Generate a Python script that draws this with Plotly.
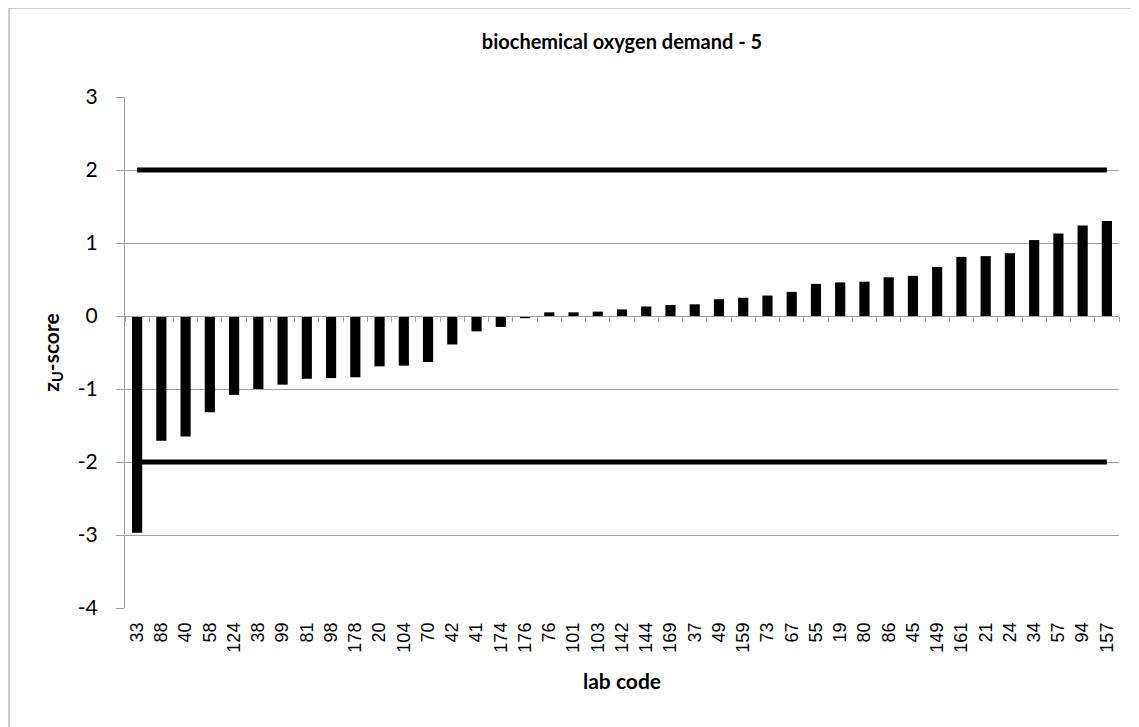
import plotly.graph_objects as go

# lab codes, sorted by z-score
lab_codes = ["33", "88", "40", "58", "124", "38", "99", "81", "98", "178",
             "20", "104", "70", "42", "41", "174", "176", "76", "101", "103",
             "142", "144", "169", "37", "49", "159", "73", "67", "55", "19",
             "80", "86", "45", "149", "161", "21", "24", "34", "57", "94", "157"]
z_scores = [-2.97, -1.71, -1.65, -1.32, -1.08, -1.00, -0.94, -0.86, -0.85, -0.84,
            -0.69, -0.68, -0.63, -0.39, -0.21, -0.15, -0.03, 0.05, 0.05, 0.06,
            0.09, 0.13, 0.15, 0.16, 0.23, 0.25, 0.28, 0.33, 0.44, 0.46,
            0.47, 0.53, 0.55, 0.67, 0.81, 0.82, 0.86, 1.04, 1.13, 1.24, 1.30]
upper_limit = [2] * len(lab_codes)
lower_limit = [-2] * len(lab_codes)
y_ticks = [-4, -3, -2, -1, 0, 1, 2, 3]
y_tick_text = ["-4", "-3", "-2", "-1", "0", "1", "2", "3"]

title_font = "Lato, 'Open Sans', sans-serif"
grid = "#a0a0a0"

# the page body adds 8px around the figure, so the figure is 8px smaller
W, H = 1131, 719
L, R, T, B = 117, 20, 89, 119
pw, ph = W - L - R, H - T - B

fig = go.Figure()
fig.add_bar(x=lab_codes, y=z_scores, marker=dict(color="black", line_width=0),
            showlegend=False)
for lim in (upper_limit, lower_limit):
    fig.add_scatter(x=lab_codes, y=lim, xaxis="x2", mode="lines",
                    line=dict(color="black", width=5), showlegend=False)

fig.update_layout(
    width=W,
    height=H,
    margin=dict(l=L, r=R, t=T, b=B),
    paper_bgcolor="white",
    plot_bgcolor="white",
    bargap=0.58,
    title=dict(text="<b>biochemical oxygen demand - 5</b>", x=0.5, xref="paper",
               y=1 - 34 / H, yanchor="middle",
               font=dict(family=title_font, size=20, color="black")),
    xaxis=dict(
        type="category",
        range=[-0.5, len(lab_codes) - 0.5],
        tickangle=-90,
        showgrid=False,
        showline=False,
        ticks="",
        ticklabelstandoff=10,
        tickfont=dict(family="Liberation Sans, Arial", size=18, color="black"),
        title=dict(text="<b>lab code</b>", standoff=22,
                   font=dict(family=title_font, size=21, color="black")),
    ),
    xaxis2=dict(
        type="category",
        overlaying="x",
        anchor="free",
        position=4 / 7,
        range=[-0.5, len(lab_codes) - 0.5],
        showticklabels=False,
        showgrid=False,
        showline=True,
        linecolor=grid,
        linewidth=1,
        ticks="outside",
        tickson="boundaries",
        ticklen=5,
        tickcolor=grid,
    ),
    yaxis=dict(
        range=[-4, 3],
        tickvals=y_ticks,
        ticktext=y_tick_text,
        showgrid=True,
        gridcolor=grid,
        gridwidth=1,
        zeroline=False,
        showline=True,
        linecolor=grid,
        ticks="outside",
        ticklen=8,
        tickcolor=grid,
        ticklabelstandoff=14,
        tickfont=dict(family=title_font, size=21, color="black"),
        title=dict(text="<b>z<sub>U</sub>-score</b>", standoff=12,
                   font=dict(family=title_font, size=21, color="black")),
    ),
    shapes=[dict(type="rect", xref="paper", yref="paper",
                 x0=(1 - L) / pw, x1=1.2, y0=-0.4, y1=1 + 89 / ph,
                 line=dict(color=grid, width=1), layer="below")],
)

fig.write_html("out.html")
